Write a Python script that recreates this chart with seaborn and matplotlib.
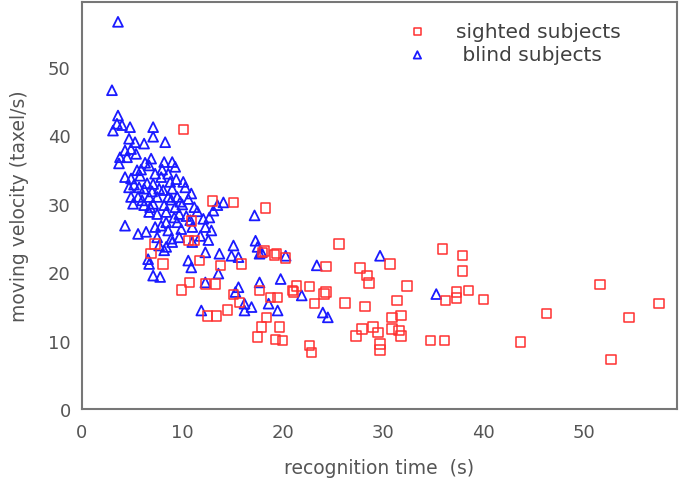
import pandas as pd
import matplotlib.pyplot as plt
import seaborn as sns

# sighted subjects (red squares)
sighted_time = [10.1, 13.0, 15.1, 18.3, 25.6, 35.9, 37.9, 37.9, 30.7, 27.7,
                28.4, 28.6, 32.4, 24.3, 19.4, 18.2, 20.3, 6.9, 8.1, 7.3,
                10.6, 11.2, 11.7, 10.7, 9.9, 12.3, 13.8, 15.9, 12.5, 13.4,
                14.5, 15.1, 15.7, 17.7, 18.4, 17.9, 17.5, 19.3, 20.0, 19.7,
                18.8, 19.5, 21.1, 21.4, 22.7, 23.2, 24.3, 22.7, 22.9, 26.2,
                28.2, 27.3, 27.9, 29.0, 29.5, 29.7, 29.7, 30.9, 30.9, 31.6,
                31.8, 31.8, 31.4, 34.7, 36.1, 36.2, 37.3, 37.3, 38.5, 40.0,
                43.7, 46.3, 51.6, 52.7, 54.5, 57.5, 10.9, 18.0, 19.2, 21.0,
                24.1, 13.3]
sighted_velocity = [40.9, 30.4, 30.2, 29.4, 24.1, 23.4, 22.4, 20.2, 21.2, 20.6,
                    19.5, 18.4, 18.0, 20.8, 22.7, 23.1, 22.1, 22.7, 21.2, 24.1,
                    24.6, 24.6, 21.7, 18.5, 17.4, 18.3, 21.0, 21.2, 13.6, 13.6,
                    14.5, 16.7, 15.6, 17.3, 13.4, 12.0, 10.5, 10.2, 10.0, 12.0,
                    16.3, 16.3, 17.1, 18.0, 17.9, 15.4, 17.1, 9.3, 8.3, 15.5,
                    15.0, 10.7, 11.7, 12.0, 11.2, 9.5, 8.6, 13.4, 11.7, 11.5,
                    10.7, 13.7, 15.9, 10.0, 10.0, 15.9, 16.2, 17.1, 17.3, 16.0,
                    9.8, 14.0, 18.2, 7.2, 13.4, 15.4, 27.5, 22.9, 22.5, 17.3,
                    16.8, 18.3]

# blind subjects (blue triangles)
blind_time = [3.6, 3.0, 3.6, 3.1, 3.5, 4.0, 4.8, 7.1, 7.1, 8.3,
              4.7, 5.3, 6.2, 4.3, 4.9, 3.8, 4.5, 3.7, 5.4, 6.9,
              6.7, 8.2, 9.0, 9.3, 4.3, 4.9, 5.8, 7.3, 7.9, 8.6,
              10.1, 10.3, 4.7, 5.7, 6.2, 7.1, 7.7, 9.0, 4.9, 5.6,
              6.7, 7.5, 8.6, 9.5, 10.6, 5.1, 6.2, 7.1, 8.2, 9.3,
              11.2, 6.7, 7.5, 8.4, 9.7, 8.4, 9.5, 10.8, 12.1, 7.3,
              8.6, 9.9, 11.0, 12.3, 12.9, 4.3, 5.6, 6.4, 7.5, 9.0,
              9.7, 11.0, 7.7, 8.2, 6.7, 6.6, 7.1, 7.8, 8.4, 10.6,
              10.9, 12.3, 13.7, 13.6, 12.3, 11.9, 13.1, 13.5, 14.1, 12.7,
              15.1, 14.9, 15.6, 17.2, 17.3, 17.5, 17.7, 17.7, 15.6, 15.3,
              16.2, 16.2, 16.9, 18.6, 19.5, 19.8, 20.3, 21.9, 23.4, 24.0,
              24.5, 29.7, 35.3, 17.9, 5.9, 6.5, 8.0, 8.8, 9.8, 6.0,
              7.0, 8.9, 10.0, 5.2, 6.8, 8.1, 9.2, 10.4, 11.5, 7.9,
              8.9, 5.5, 6.3, 9.4, 10.9, 11.8, 12.6]
blind_velocity = [56.6, 46.6, 42.9, 40.7, 41.7, 41.5, 41.2, 41.2, 39.8, 39.0,
                  39.5, 39.0, 38.8, 37.8, 38.0, 36.8, 36.8, 35.9, 37.3, 36.6,
                  35.6, 36.1, 36.1, 35.4, 33.9, 33.7, 34.1, 34.4, 33.9, 34.4,
                  33.2, 32.4, 32.4, 32.4, 32.2, 32.9, 32.2, 32.2, 31.0, 31.0,
                  31.0, 31.0, 31.0, 31.0, 30.7, 30.0, 29.8, 30.0, 29.8, 29.5,
                  29.5, 28.8, 28.5, 28.8, 28.5, 27.3, 27.3, 27.6, 27.8, 26.6,
                  26.1, 26.3, 26.6, 26.6, 26.1, 26.8, 25.6, 25.9, 25.1, 24.4,
                  25.1, 24.4, 23.9, 23.2, 21.2, 21.9, 19.5, 19.3, 23.7, 21.7,
                  20.7, 22.9, 22.7, 19.8, 18.5, 14.4, 29.0, 29.8, 30.2, 28.0,
                  23.9, 22.4, 22.2, 28.3, 24.6, 23.7, 22.7, 18.5, 17.8, 17.1,
                  15.4, 14.4, 14.9, 15.4, 14.4, 19.0, 22.4, 16.6, 21.0, 14.1,
                  13.4, 22.4, 16.8, 22.9, 35.0, 33.0, 35.0, 33.2, 30.3, 30.5,
                  31.8, 30.6, 29.9, 32.8, 29.5, 32.0, 28.0, 28.2, 28.9, 26.8,
                  24.9, 34.9, 36.0, 33.6, 31.5, 25.3, 24.7]

grey = '#555555'

sns.set_style('white')
plt.rcParams['font.family'] = ['DejaVu Sans']

fig = plt.figure(figsize=(6.82, 4.81), dpi=100)
ax = fig.add_axes([0.120, 0.1476, 0.873, 0.8462])

blind = pd.DataFrame({'time': blind_time, 'velocity': blind_velocity})
sighted = pd.DataFrame({'time': sighted_time, 'velocity': sighted_velocity})

sns.scatterplot(data=blind, x='time', y='velocity', marker='^', s=50,
                facecolors='none', edgecolor='#1a1aff', linewidth=1.3,
                label=' blind subjects', ax=ax)
sns.scatterplot(data=sighted, x='time', y='velocity', marker='s', s=46,
                facecolors='none', edgecolor='#ff3030', linewidth=1.1,
                label='sighted subjects', ax=ax)

ax.set_xlim(0, 59.3)
ax.set_ylim(0, 59.5)
ax.set_xticks([0, 10, 20, 30, 40, 50])
ax.set_yticks([0, 10, 20, 30, 40, 50])
ax.tick_params(length=0, labelsize=13, colors=grey)
ax.tick_params(axis='x', pad=10)
ax.tick_params(axis='y', pad=8)
ax.set_xlabel('recognition time  (s)', fontsize=13.5, color=grey, labelpad=12)
ax.set_ylabel('moving velocity (taxel/s)', fontsize=13.5, color=grey, labelpad=14)

for side in ['left', 'bottom', 'top', 'right']:
    ax.spines[side].set_color('#777777')
    ax.spines[side].set_linewidth(1.5)

handles, labels = ax.get_legend_handles_labels()
leg = ax.legend(handles[::-1], labels[::-1], loc='upper right',
                bbox_to_anchor=(0.935, 0.995), frameon=False, fontsize=14.5,
                handletextpad=0.9, labelspacing=0.2, markerscale=0.75)
for t in leg.get_texts():
    t.set_color('#404040')

fig.savefig('out.png', dpi=100)
